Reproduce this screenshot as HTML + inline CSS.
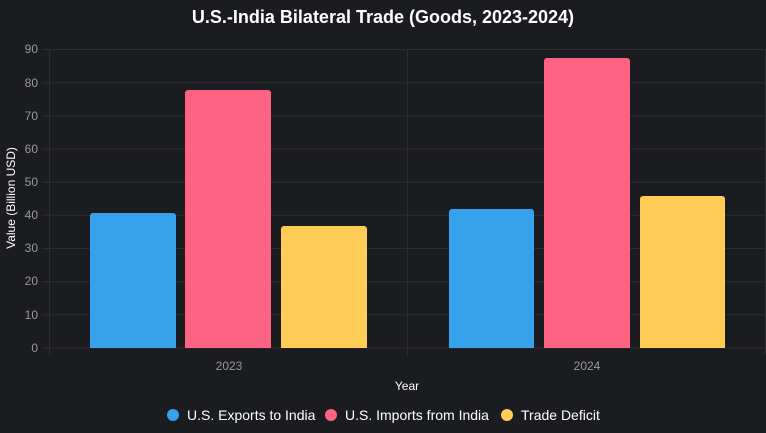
<!DOCTYPE html>
<html><head><style>body{margin:0;background:#1b1c20;}svg{display:block}</style></head><body>
<svg width="766" height="433" xmlns="http://www.w3.org/2000/svg" font-family="Liberation Sans, sans-serif">
<rect width="766" height="433" fill="#1b1c20"/>
<text x="383" y="23" text-anchor="middle" font-size="18" font-weight="bold" fill="#fff">U.S.-India Bilateral Trade (Goods, 2023-2024)</text>
<g stroke="#2c2d31" stroke-width="1">
<line x1="42" y1="49.5" x2="766" y2="49.5"/>
<line x1="42" y1="82.7" x2="766" y2="82.7"/>
<line x1="42" y1="115.8" x2="766" y2="115.8"/>
<line x1="42" y1="149" x2="766" y2="149"/>
<line x1="42" y1="182.2" x2="766" y2="182.2"/>
<line x1="42" y1="215.3" x2="766" y2="215.3"/>
<line x1="42" y1="248.5" x2="766" y2="248.5"/>
<line x1="42" y1="281.7" x2="766" y2="281.7"/>
<line x1="42" y1="314.8" x2="766" y2="314.8"/>
<line x1="42" y1="348" x2="766" y2="348"/>
<line x1="49.5" y1="49.5" x2="49.5" y2="355"/>
<line x1="407.5" y1="49.5" x2="407.5" y2="355"/>
<line x1="765.5" y1="49.5" x2="765.5" y2="355"/>
</g>
<g font-size="12" fill="#9a9a9a" text-anchor="end">
<text x="38" y="53">90</text><text x="38" y="87">80</text><text x="38" y="120">70</text><text x="38" y="153">60</text><text x="38" y="186">50</text><text x="38" y="219">40</text><text x="38" y="252">30</text><text x="38" y="285">20</text><text x="38" y="319">10</text><text x="38" y="352">0</text>
</g>
<g font-size="12" fill="#9a9a9a" text-anchor="middle">
<text x="229" y="370">2023</text><text x="587" y="370">2024</text>
</g>
<text x="407" y="390" font-size="12" fill="#fff" text-anchor="middle">Year</text>
<text transform="translate(15,198) rotate(-90)" font-size="12" fill="#fff" text-anchor="middle">Value (Billion USD)</text>
<g>
<path d="M90,348V216a3,3 0 0 1 3,-3H173a3,3 0 0 1 3,3V348Z" fill="#36a2eb"/>
<path d="M185,348V93a3,3 0 0 1 3,-3H268a3,3 0 0 1 3,3V348Z" fill="#ff6384"/>
<path d="M281,348V229a3,3 0 0 1 3,-3H364a3,3 0 0 1 3,3V348Z" fill="#ffcd56"/>
<path d="M449,348V212a3,3 0 0 1 3,-3H531a3,3 0 0 1 3,3V348Z" fill="#36a2eb"/>
<path d="M544,348V61a3,3 0 0 1 3,-3H627a3,3 0 0 1 3,3V348Z" fill="#ff6384"/>
<path d="M640,348V199a3,3 0 0 1 3,-3H722a3,3 0 0 1 3,3V348Z" fill="#ffcd56"/>
</g>
<g font-size="14" fill="#fff">
<circle cx="173" cy="415" r="6" fill="#36a2eb"/><text x="187" y="420">U.S. Exports to India</text>
<circle cx="331" cy="415" r="6" fill="#ff6384"/><text x="345" y="420">U.S. Imports from India</text>
<circle cx="507" cy="415" r="6" fill="#ffcd56"/><text x="521" y="420">Trade Deficit</text>
</g>
</svg>
</body></html>
